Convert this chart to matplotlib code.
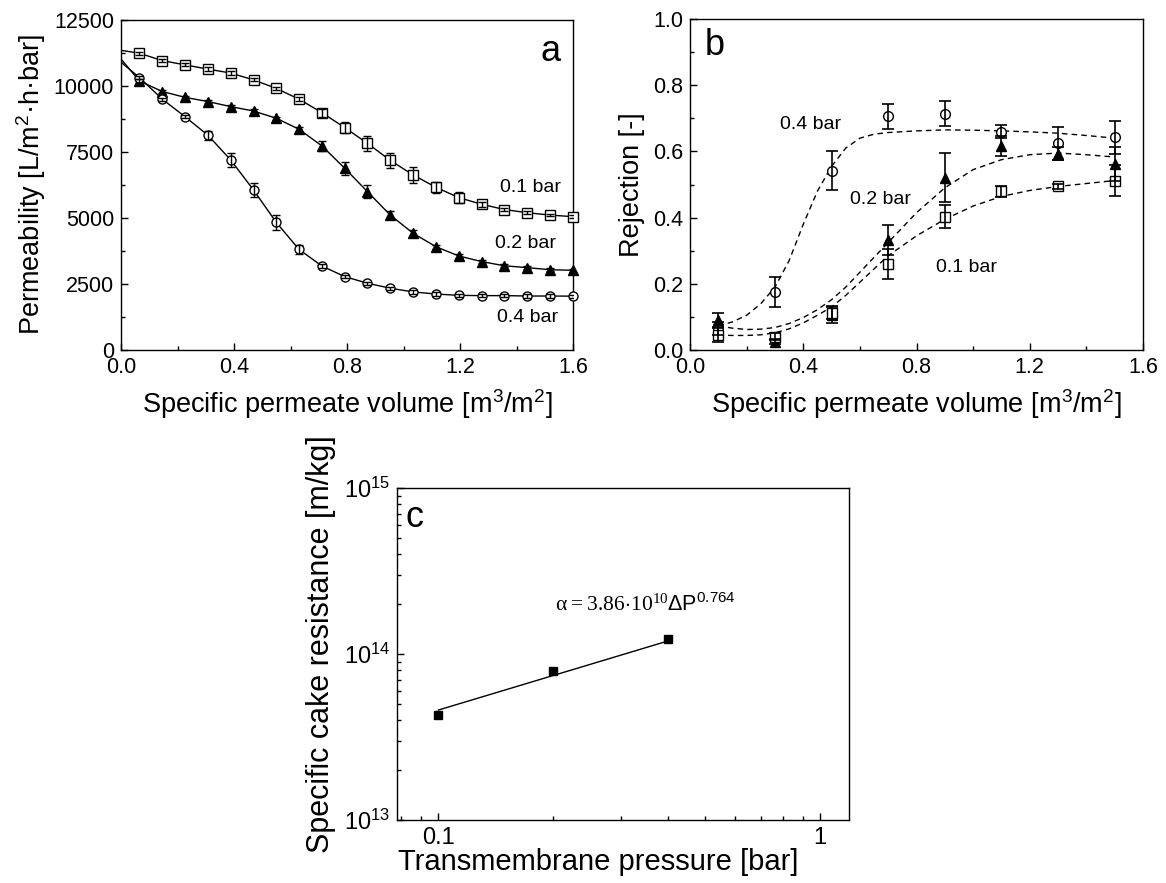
import matplotlib
matplotlib.use("Agg")
import matplotlib.pyplot as plt
from matplotlib.ticker import MultipleLocator, FixedLocator, FixedFormatter, LogLocator, NullFormatter

plt.rcParams['font.family'] = ['Liberation Sans', 'DejaVu Sans']
plt.rcParams['mathtext.fontset'] = 'custom'
plt.rcParams['mathtext.rm'] = 'Liberation Serif'
plt.rcParams['mathtext.sf'] = 'Liberation Sans'
plt.rcParams['mathtext.default'] = 'regular'
plt.rcParams['xtick.direction'] = 'in'
plt.rcParams['ytick.direction'] = 'in'

# ---- panel a: permeability vs specific permeate volume ----
vol_a = [0.065, 0.146, 0.226, 0.307, 0.388, 0.469, 0.549, 0.630, 0.711, 0.792,
         0.872, 0.953, 1.034, 1.115, 1.196, 1.276, 1.357, 1.438, 1.519, 1.600]
perm_01 = [11240, 10960, 10800, 10640, 10490, 10230, 9910, 9500, 8990, 8420,
           7830, 7180, 6630, 6160, 5770, 5520, 5320, 5200, 5110, 5050]
err_01 = [60, 60, 60, 60, 60, 60, 60, 80, 150, 220,
          280, 300, 300, 200, 200, 100, 60, 50, 50, 50]
perm_02 = [10190, 9790, 9570, 9410, 9220, 9050, 8780, 8360, 7730, 6880,
           6000, 5110, 4420, 3910, 3560, 3350, 3190, 3120, 3040, 3020]
err_02 = [60, 60, 60, 60, 60, 60, 60, 100, 200, 250,
          250, 150, 120, 80, 60, 60, 60, 60, 60, 60]
perm_04 = [10320, 9500, 8840, 8140, 7200, 6060, 4840, 3810, 3180, 2780,
           2530, 2340, 2200, 2120, 2070, 2060, 2060, 2045, 2045, 2040]
err_04 = [60, 60, 60, 170, 250, 250, 280, 170, 80, 60,
          60, 60, 60, 60, 60, 60, 60, 60, 60, 60]
# fitted curves start at zero volume
start_01, start_02, start_04 = 11350, 11020, 10900

# ---- panel b: rejection ----
vol_b = [0.1, 0.3, 0.5, 0.7, 0.9, 1.1, 1.3, 1.5]
rej_04 = [0.066, 0.176, 0.542, 0.706, 0.714, 0.660, 0.625, 0.642]
rerr_04 = [0.02, 0.045, 0.058, 0.038, 0.038, 0.02, 0.05, 0.05]
rej_02 = [0.091, 0.025, 0.106, 0.333, 0.521, 0.617, 0.593, 0.562]
rerr_02 = [0.02, 0.008, 0.025, 0.045, 0.075, 0.03, 0.02, 0.05]
rej_01 = [0.045, 0.040, 0.113, 0.260, 0.403, 0.479, 0.494, 0.511]
rerr_01 = [0.022, 0.01, 0.02, 0.044, 0.035, 0.017, 0.008, 0.047]

fit_vol_b = [0.1, 0.15, 0.2, 0.25, 0.3, 0.35, 0.4, 0.45, 0.5, 0.55, 0.6, 0.65, 0.7,
             0.8, 0.9, 1.0, 1.1, 1.2, 1.3, 1.4, 1.5]
fit_04 = [0.073, 0.085, 0.105, 0.14, 0.19, 0.27, 0.38, 0.48, 0.555, 0.61, 0.64, 0.652, 0.657,
          0.662, 0.665, 0.664, 0.662, 0.659, 0.655, 0.648, 0.640]
fit_02 = [0.073, 0.066, 0.062, 0.063, 0.068, 0.080, 0.098, 0.122, 0.152, 0.19, 0.235, 0.28, 0.325,
          0.415, 0.49, 0.545, 0.575, 0.59, 0.595, 0.59, 0.583]
fit_01 = [0.045, 0.044, 0.044, 0.046, 0.052, 0.064, 0.082, 0.105, 0.13, 0.165, 0.205, 0.245, 0.285,
          0.345, 0.395, 0.435, 0.464, 0.482, 0.494, 0.503, 0.512]

# ---- panel c: specific cake resistance ----
tmp = [0.1, 0.2, 0.4]
alpha = [4.3e13, 7.95e13, 1.23e14]
fit_tmp = [0.1, 0.4]
fit_alpha = [4.6e13, 1.2e14]

fig = plt.figure(figsize=(11.66, 8.83), dpi=100)
ax_a = fig.add_axes([0.1038, 0.6036, 0.3877, 0.3738])
ax_b = fig.add_axes([0.5918, 0.6036, 0.3885, 0.3749])
ax_c = fig.add_axes([0.3407, 0.0713, 0.3874, 0.3760])

tick_fs = 15.5
lab_fs = 19.5

# panel a
ms_a = 6.5
for start, yv, ev, mk, fc in [(start_01, perm_01, err_01, 's', 'white'),
                              (start_02, perm_02, err_02, '^', 'black'),
                              (start_04, perm_04, err_04, 'o', 'white')]:
    ax_a.plot([0.0] + vol_a, [start] + yv, color='black', lw=1.0, zorder=2)
    ax_a.plot(vol_a, yv, linestyle='none', marker=mk, ms=ms_a, mfc=fc, mec='black',
              mew=1.0, zorder=3, clip_on=False)
    ax_a.errorbar(vol_a, yv, yerr=ev, fmt='none', ecolor='black', elinewidth=1.0,
                  capsize=3, capthick=1.0, zorder=4)
ax_a.set_xlim(0, 1.6)
ax_a.set_ylim(0, 12500)
ax_a.xaxis.set_major_locator(MultipleLocator(0.4))
ax_a.xaxis.set_minor_locator(MultipleLocator(0.2))
ax_a.yaxis.set_major_locator(MultipleLocator(2500))
ax_a.yaxis.set_minor_locator(MultipleLocator(1250))
ax_a.xaxis.set_major_formatter(plt.FuncFormatter(lambda v, p: f"{v:.1f}"))
ax_a.set_xlabel('Specific permeate volume [m$^3$/m$^2$]', fontsize=lab_fs, labelpad=7)
ax_a.set_ylabel('Permeability [L/m$^2$·h·bar]', fontsize=lab_fs, labelpad=4)
ax_a.text(1.52, 11300, 'a', fontsize=26, ha='center', va='center')
ax_a.text(1.448, 6150, '0.1 bar', fontsize=14, ha='center', va='center')
ax_a.text(1.432, 4020, '0.2 bar', fontsize=14, ha='center', va='center')
ax_a.text(1.44, 1250, '0.4 bar', fontsize=14, ha='center', va='center')

# panel b
ms_b = 7
for yv, ev, fy, mk, fc in [(rej_04, rerr_04, fit_04, 'o', 'white'),
                           (rej_02, rerr_02, fit_02, '^', 'black'),
                           (rej_01, rerr_01, fit_01, 's', 'white')]:
    ax_b.plot(fit_vol_b, fy, color='black', lw=1.0, linestyle=(0, (4, 3)), zorder=2)
    ax_b.plot(vol_b, yv, linestyle='none', marker=mk, ms=ms_b, mfc=fc, mec='black',
              mew=1.0, zorder=3)
    ax_b.errorbar(vol_b, yv, yerr=ev, fmt='none', ecolor='black', elinewidth=1.2,
                  capsize=4, capthick=1.2, zorder=4)
ax_b.set_xlim(0, 1.6)
ax_b.set_ylim(0, 1.0)
ax_b.xaxis.set_major_locator(MultipleLocator(0.4))
ax_b.xaxis.set_minor_locator(MultipleLocator(0.2))
ax_b.yaxis.set_major_locator(MultipleLocator(0.2))
ax_b.yaxis.set_minor_locator(MultipleLocator(0.1))
ax_b.xaxis.set_major_formatter(plt.FuncFormatter(lambda v, p: f"{v:.1f}"))
ax_b.yaxis.set_major_formatter(plt.FuncFormatter(lambda v, p: f"{v:.1f}"))
ax_b.set_xlabel('Specific permeate volume [m$^3$/m$^2$]', fontsize=lab_fs, labelpad=7)
ax_b.set_ylabel('Rejection [-]', fontsize=lab_fs, labelpad=6)
ax_b.text(0.088, 0.92, 'b', fontsize=26, ha='center', va='center')
ax_b.text(0.424, 0.682, '0.4 bar', fontsize=14, ha='center', va='center')
ax_b.text(0.671, 0.456, '0.2 bar', fontsize=14, ha='center', va='center')
ax_b.text(0.975, 0.248, '0.1 bar', fontsize=14, ha='center', va='center')

# panel c
ax_c.set_xscale('log')
ax_c.set_yscale('log')
ax_c.plot(fit_tmp, fit_alpha, color='black', lw=1.0, zorder=2)
ax_c.plot(tmp, alpha, linestyle='none', marker='s', ms=6, color='black', zorder=3)
ax_c.set_xlim(0.078, 1.19)
ax_c.set_ylim(1e13, 1e15)
ax_c.xaxis.set_major_locator(FixedLocator([0.1, 1]))
ax_c.xaxis.set_major_formatter(FixedFormatter(['0.1', '1']))
ax_c.xaxis.set_minor_locator(LogLocator(base=10, subs=range(2, 10)))
ax_c.xaxis.set_minor_formatter(NullFormatter())
ax_c.yaxis.set_major_locator(LogLocator(base=10))
ax_c.yaxis.set_minor_locator(LogLocator(base=10, subs=range(2, 10)))
ax_c.set_xlabel('Transmembrane pressure [bar]', fontsize=21, labelpad=2)
ax_c.xaxis.set_label_coords(0.446, -0.085)
ax_c.set_ylabel('Specific cake resistance [m/kg]', fontsize=22)
ax_c.yaxis.set_label_coords(-0.135, 0.53)
ax_c.text(0.0865, 6.6e14, 'c', fontsize=26, ha='center', va='center')
ax_c.text(0.348, 2.0e14,
          r'$\mathrm{\alpha = 3.86{\cdot}10^{10}}\mathsf{\Delta P^{0.764}}$',
          fontsize=15.5, ha='center', va='center')

for ax in (ax_a, ax_b, ax_c):
    ax.tick_params(which='major', length=5, width=1, labelsize=tick_fs, top=False, right=False,
                   colors='black', pad=5)
    ax.tick_params(which='minor', length=3, width=1, top=False, right=False)
    for sp in ax.spines.values():
        sp.set_linewidth(1.0)
ax_c.tick_params(which='major', labelsize=17)

fig.savefig('out.png', dpi=100)
